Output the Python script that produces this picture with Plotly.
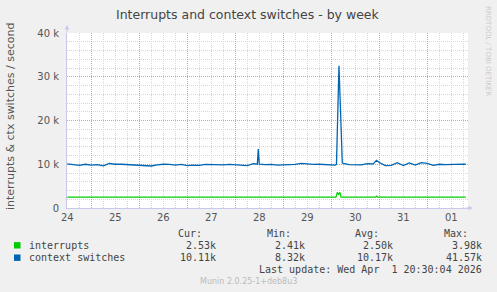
import plotly.graph_objects as go

# ---- data (time in days since Mar 24 00:00, values per second) ----
cs_t = [0.5, 0.625, 0.75, 0.875, 1.0, 1.125, 1.25, 1.375, 1.5, 1.625, 1.75, 1.875,
        2.0, 2.125, 2.25, 2.375, 2.5, 2.625, 2.75, 2.875, 3.0, 3.125, 3.25, 3.375,
        3.5, 3.625, 3.75, 3.875, 4.0, 4.125, 4.25, 4.375, 4.46, 4.479, 4.50, 4.625,
        4.75, 4.875, 5.0, 5.125, 5.25, 5.375, 5.5, 5.625, 5.75, 5.875, 6.0, 6.077,
        6.108, 6.16, 6.229, 6.25, 6.375, 6.5, 6.625, 6.75, 6.875, 6.94, 7.0, 7.125,
        7.25, 7.375, 7.5, 7.625, 7.75, 7.875, 8.0, 8.125, 8.25, 8.375, 8.5, 8.625,
        8.75, 8.8]
cs_v = [10100, 9850, 9750, 10000, 9800, 9900, 9650, 10200, 10000, 10000, 9950, 9800,
        9850, 9800, 9600, 9850, 10000, 9950, 9800, 9950, 9700, 9800, 9750, 9950,
        9900, 10000, 9850, 9950, 9900, 9850, 9700, 10150, 10000, 13500, 10000, 9900,
        9950, 9800, 9850, 9750, 9950, 10200, 10000, 9950, 10000, 9950, 10000, 9800,
        10000, 32500, 10300, 10200, 9900, 9900, 9850, 10150, 10100, 10900, 10400, 9700,
        9750, 10350, 9700, 10300, 9800, 10350, 10200, 9750, 10000, 9900, 10000, 9950,
        10050, 10000]

irq_t = [0.5, 6.098, 6.125, 6.154, 6.181, 6.202, 6.92, 6.945, 6.97, 7.37, 7.396, 7.42, 8.8]
irq_v = [2480, 2480, 3580, 3120, 3600, 2490, 2480, 2750, 2480, 2480, 2650, 2480, 2480]

day_ticks = [0.5, 1.5, 2.5, 3.5, 4.5, 5.5, 6.5, 7.5, 8.5]
day_labels = ["24", "25", "26", "27", "28", "29", "30", "31", "01"]
day_bounds = [1, 2, 3, 4, 5, 6, 7, 8]
y_ticks = [0, 10000, 20000, 30000, 40000]
y_labels = ["0", "10 k", "20 k", "30 k", "40 k"]

series_names = ["interrupts", "context switches"]
series_colors = ["#00CC00", "#0066B3"]
cur_vals = ["2.53k", "10.11k"]
min_vals = ["2.41k", "8.32k"]
avg_vals = ["2.50k", "10.17k"]
max_vals = ["3.98k", "41.57k"]

X_RANGE = [0.494, 8.848]
W, H = 497, 292
L, R, T, B = 67, 29, 33, 84
PW, PH = W - L - R, H - T - B

def px(x):
    return (x - L) / PW

def py(y):
    return (H - B - y) / PH

RED = "#e89a9a"
GRAY = "#d6d6d6"
AXIS = "#c8c8ee"
TXT = "#555555"
DASH = "1px,1px"

fig = go.Figure()
fig.add_trace(go.Scatter(x=irq_t, y=irq_v, mode="lines", line=dict(color=series_colors[0], width=1.2),
                         showlegend=False, hoverinfo="skip"))
fig.add_trace(go.Scatter(x=cs_t, y=cs_v, mode="lines", line=dict(color=series_colors[1], width=1.3),
                         showlegend=False, hoverinfo="skip"))
fig.add_trace(go.Scatter(x=[], y=[], xaxis="x2", showlegend=False))

fig.update_layout(
    width=W, height=H,
    margin=dict(l=L, r=R, t=T, b=B, pad=0),
    paper_bgcolor="#F0F0F0", plot_bgcolor="#FFFFFF",
    font=dict(family="DejaVu Sans", size=10, color=TXT),
    xaxis=dict(range=X_RANGE, tickvals=day_bounds, showticklabels=False, ticks="",
               showgrid=True, gridcolor=RED, griddash=DASH, gridwidth=1,
               minor=dict(dtick=0.25, tick0=0, showgrid=True, gridcolor=GRAY, griddash=DASH, gridwidth=1),
               showline=True, linecolor=AXIS, linewidth=1, zeroline=False, fixedrange=True),
    xaxis2=dict(range=X_RANGE, overlaying="x", anchor="y", side="bottom", tickvals=day_ticks,
                ticktext=day_labels, showgrid=False, zeroline=False, showline=False, ticks="",
                tickfont=dict(size=10, color=TXT), ticklabelstandoff=2),
    yaxis=dict(range=[0, 40000], tickvals=y_ticks, ticktext=y_labels, ticks="",
               showgrid=True, gridcolor=RED, griddash=DASH, gridwidth=1,
               minor=dict(dtick=2000, tick0=0, showgrid=True, gridcolor=GRAY, griddash=DASH, gridwidth=1),
               showline=True, linecolor=AXIS, linewidth=1, zeroline=False,
               tickfont=dict(size=10, color=TXT), ticklabelstandoff=5),
)

ann = []
# axis arrows
ann.append(dict(x=0, y=py(25), xref="paper", yref="paper", ax=0, ay=9, text="", showarrow=True,
                arrowhead=2, arrowsize=0.9, arrowwidth=1, arrowcolor=AXIS))
ann.append(dict(x=px(473), y=0, xref="paper", yref="paper", ax=-9, ay=0, text="", showarrow=True,
                arrowhead=2, arrowsize=0.9, arrowwidth=1, arrowcolor=AXIS))
# title
ann.append(dict(x=px(248), y=py(14), xref="paper", yref="paper", text="Interrupts and context switches - by week",
                showarrow=False, font=dict(size=12.5, color="#444444"), xanchor="center", yanchor="middle"))
# y label
ann.append(dict(x=px(10), y=py(117), xref="paper", yref="paper", text="interrupts & ctx switches / second",
                showarrow=False, textangle=-90, font=dict(size=11, color=TXT), xanchor="center", yanchor="middle"))
# rrdtool watermark
ann.append(dict(x=px(488), y=py(51), xref="paper", yref="paper", text="RRDTOOL / TOBI OETIKER",
                showarrow=False, textangle=90, font=dict(size=7, color="#cccccc"), xanchor="center", yanchor="middle"))

MONO = dict(family="DejaVu Sans Mono", size=10, color="#444444")
# legend headers
for label, xr in [("Cur:", 203.5), ("Min:", 292.5), ("Avg:", 380.5), ("Max:", 470.5)]:
    ann.append(dict(x=px(xr), y=py(233), xref="paper", yref="paper", text=label, showarrow=False,
                    font=MONO, xanchor="right", yanchor="middle"))
rows_y = [245.3, 257.7]
for i, name in enumerate(series_names):
    ann.append(dict(x=px(26.5), y=py(rows_y[i]), xref="paper", yref="paper", text=name, showarrow=False,
                    font=MONO, xanchor="left", yanchor="middle"))
    for vals, xr in [(cur_vals, 217.5), (min_vals, 306.5), (avg_vals, 394.5), (max_vals, 483.5)]:
        ann.append(dict(x=px(xr), y=py(rows_y[i]), xref="paper", yref="paper", text=vals[i], showarrow=False,
                        font=MONO, xanchor="right", yanchor="middle"))
ann.append(dict(x=px(483.5), y=py(269.3), xref="paper", yref="paper",
                text="Last update: Wed Apr\u00a0 1 20:30:04 2026", showarrow=False,
                font=MONO, xanchor="right", yanchor="middle"))
ann.append(dict(x=px(248), y=py(281), xref="paper", yref="paper", text="Munin 2.0.25-1+deb8u3",
                showarrow=False, font=dict(family="DejaVu Sans", size=8, color="#bbbbbb"),
                xanchor="center", yanchor="middle"))
fig.update_layout(annotations=ann)

# legend colour swatches
shapes = []
for i, c in enumerate(series_colors):
    shapes.append(dict(type="rect", xref="paper", yref="paper", x0=px(14), x1=px(20.5),
                       y0=py(rows_y[i] + 3.2), y1=py(rows_y[i] - 3.2), fillcolor=c, line=dict(width=0)))
fig.update_layout(shapes=shapes)

fig.write_html("out.html")
